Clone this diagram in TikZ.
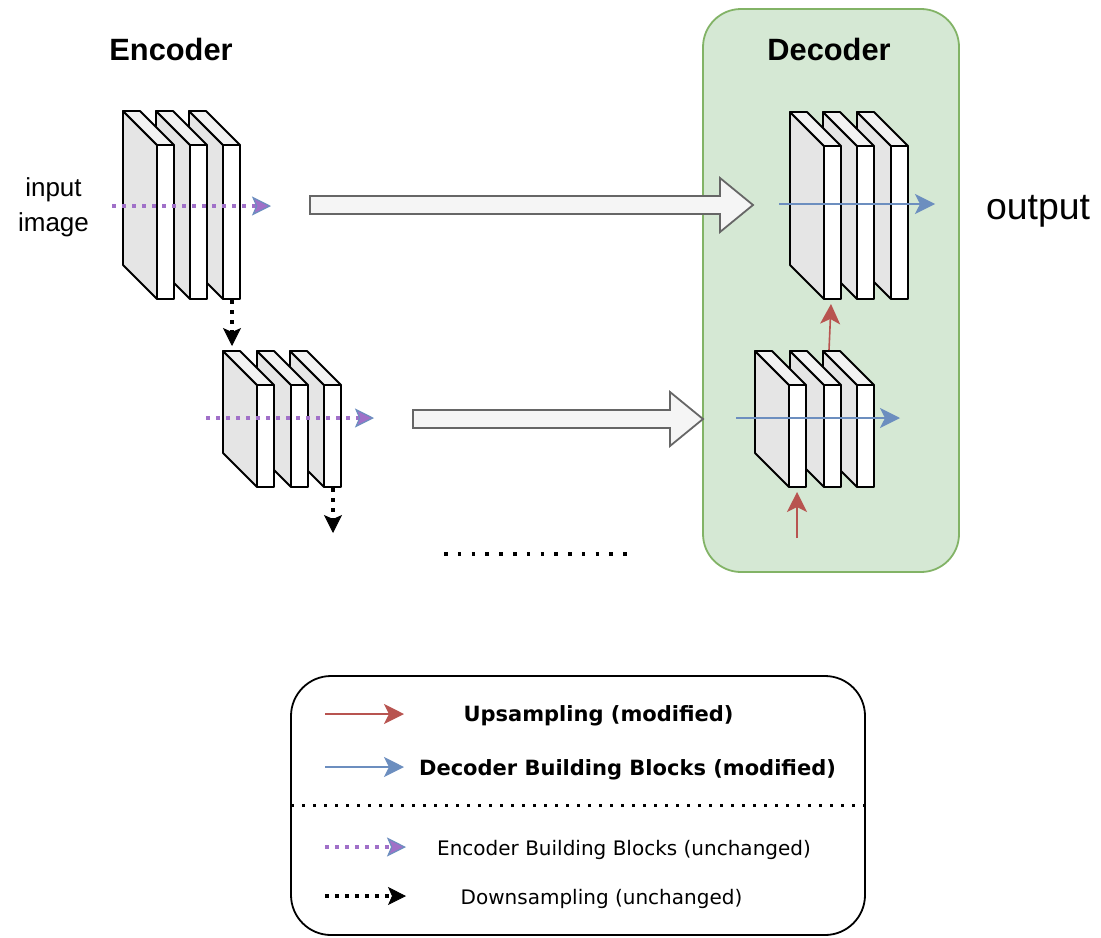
\documentclass[tikz,border=0pt]{standalone}
\usepackage{fontspec}
\setmainfont{Liberation Sans}
\newfontfamily\legendfont{DejaVu Sans}
\usetikzlibrary{arrows.meta}

\definecolor{decgreen}{HTML}{D5E8D4}
\definecolor{decgreenline}{HTML}{82B366}
\definecolor{upred}{HTML}{B85450}
\definecolor{decblue}{HTML}{6C8EBF}
\definecolor{encpurple}{HTML}{A070C8}
\definecolor{skipfill}{HTML}{F5F5F5}
\definecolor{skipline}{HTML}{666666}

% one feature map, front face at x=#1 from y=#2 to y=#3
\newcommand{\featslab}[3]{%
  \draw[slabside] (#1,#2) -- (#1-34,#2-34) -- (#1-34,#3-34) -- (#1,#3) -- cycle;
  \draw[slabside, fill=gray!10] (#1,#2) -- (#1-34,#2-34) -- (#1-17,#2-34) -- (#1+17,#2) -- cycle;
  \draw[slabside, fill=white] (#1,#2) rectangle (#1+17,#3);
}
% wide hollow skip arrow: start x, head x, tip x, y
\newcommand{\skiparrow}[4]{%
  \draw[skipconn] (#1,#4-9) -- (#2,#4-9) -- (#2,#4-27) -- (#3,#4) -- (#2,#4+27) -- (#2,#4+9) -- (#1,#4+9) -- cycle;
}

\begin{document}
\begin{tikzpicture}[x=0.5pt, y=-0.5pt,
    slabside/.style={draw=black, line width=0.9pt, fill=gray!20, line join=round},
    skipconn/.style={draw=skipline, fill=skipfill, line width=0.9pt},
    encflow/.style={encpurple, line width=2pt, dash pattern=on 2pt off 3pt,
      -{Stealth[length=9.5pt, width=9.5pt, inset=2pt, fill=encpurple, color=decblue, line width=0.6pt]}},
    downconn/.style={black, line width=2pt, dash pattern=on 2pt off 3pt,
      -{Stealth[length=9pt, width=9pt, inset=2pt, line width=0.4pt]}},
    decflow/.style={decblue, line width=0.8pt, -{Stealth[length=10pt, width=10pt, inset=2.5pt]}},
    upconn/.style={upred, line width=0.8pt, -{Stealth[length=10pt, width=10pt, inset=2.5pt]}},
    title/.style={font=\bfseries\fontsize{15.4}{18}\selectfont, anchor=base},
    legbold/.style={font=\legendfont\bfseries\fontsize{10.5}{12}\selectfont},
    legtext/.style={font=\legendfont\fontsize{10}{12}\selectfont}]
  \useasboundingbox (0,0) rectangle (1101,937);

  % decoder area and legend frame
  \draw[decgreenline, fill=decgreen, line width=0.9pt, rounded corners=19pt] (703,9) rectangle (959,572);
  \draw[black, line width=0.9pt, rounded corners=20pt] (291,676) rectangle (865,935);
  \draw[black, line width=1.5pt, dash pattern=on 1.5pt off 4pt] (291,805) -- (865,805);

  \node[title] (enctitle) at (171,60) {Encoder};
  \node[title] (dectitle) at (829,60) {Decoder};
  \node[align=center, font=\fontsize{13}{17.5}\selectfont] (inimg) at (53.5,207) {input\\image};
  \node[font=\fontsize{18.7}{22}\selectfont, anchor=base] (outlbl) at (1038,219) {output};

  % skip connections
  \skiparrow{310}{720}{753}{205}
  \skiparrow{413}{670}{703}{419}

  % blocks, drawn back to front
  \foreach \sx in {223,190,157} {\featslab{\sx}{145}{299}}
  \foreach \sx in {324,291,257} {\featslab{\sx}{385}{487}}
  \foreach \sx in {891,857,824} {\featslab{\sx}{146}{299}}
  \foreach \sx in {857,824,789} {\featslab{\sx}{385}{487}}

  \coordinate (encAin) at (112,206);  \coordinate (encAout) at (271,206);
  \coordinate (encBin) at (206,418);  \coordinate (encBout) at (374,418);
  \coordinate (downAs) at (232,300);  \coordinate (downAe) at (232,346);
  \coordinate (downBs) at (333,488);  \coordinate (downBe) at (333,533);
  \coordinate (decAin) at (779,204);  \coordinate (decAout) at (935,204);
  \coordinate (decBin) at (736,418);  \coordinate (decBout) at (900,418);
  \coordinate (upAs) at (829,350);    \coordinate (upAe) at (831,304);
  \coordinate (upBs) at (797,538);    \coordinate (upBe) at (797,492);

  \draw[encflow] (encAin) -- (encAout);
  \draw[encflow] (encBin) -- (encBout);
  \draw[downconn] (downAs) -- (downAe);
  \draw[downconn] (downBs) -- (downBe);
  \draw[decflow] (decAin) -- (decAout);
  \draw[decflow] (decBin) -- (decBout);
  \draw[upconn] (upAs) -- (upAe);
  \draw[upconn] (upBs) -- (upBe);

  % more levels
  \draw[black, line width=1.75pt, dash pattern=on 1.75pt off 5.13pt] (444.2,554) -- (627,554);

  % legend
  \coordinate (legAs) at (325,714); \coordinate (legAe) at (404,714);
  \coordinate (legBs) at (325,767); \coordinate (legBe) at (404,767);
  \coordinate (legCs) at (325,847); \coordinate (legCe) at (406,847);
  \coordinate (legDs) at (325,896); \coordinate (legDe) at (406,896);
  \draw[upconn] (legAs) -- (legAe);
  \draw[decflow] (legBs) -- (legBe);
  \draw[encflow] (legCs) -- (legCe);
  \draw[downconn] (legDs) -- (legDe);
  \node[legbold] (legup) at (598.5,716) {Upsampling (modified)};
  \node[legbold] (legdec) at (627.5,770) {Decoder Building Blocks (modified)};
  \node[legtext] (legenc) at (624,849.5) {Encoder Building Blocks (unchanged)};
  \node[legtext] (legdown) at (601.5,898.5) {Downsampling (unchanged)};
\end{tikzpicture}
\end{document}
